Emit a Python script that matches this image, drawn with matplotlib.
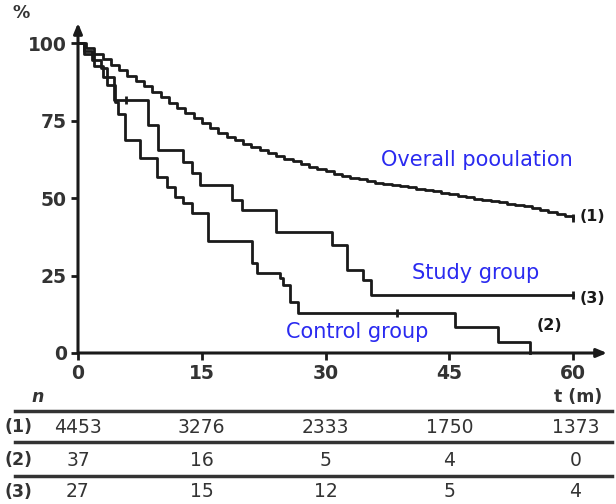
import matplotlib
matplotlib.use("Agg")
import matplotlib.pyplot as plt

# ---- survival data (months, % surviving) ----
overall_t = list(range(0, 61))
overall_s = [100, 98.3, 96.5, 94.8, 93, 91.3, 89.5, 87.8, 86, 84.2, 82.5,
             80.7, 79, 77.3, 75.7, 74.1, 72.5, 71.1, 69.8, 68.6, 67.5, 66.5,
             65.5, 64.5, 63.5, 62.6, 61.8, 60.9, 60, 59.3, 58.6, 57.9, 57.2,
             56.6, 56, 55.5, 55, 54.6, 54.3, 53.9, 53.5, 53, 52.6, 52.1, 51.7,
             51.2, 50.8, 50.3, 49.8, 49.4, 49, 48.6, 48.2, 47.7, 47.3, 46.7,
             46.2, 45.6, 45, 44.3, 43.6]

control_t = [0, 0.7, 1.7, 2.8, 3.5, 4.5, 4.8, 5.7, 7.5, 9.6, 10.8, 11.8, 12.7,
             13.8, 15.8, 21.1, 21.7, 24.5, 24.8, 25.7, 26.7, 45.7, 50.9, 54.8]
control_s = [100, 97.3, 94.6, 91.9, 86.5, 81.1, 77.0, 68.7, 62.9, 56.8, 53.5,
             50.3, 48.4, 45.2, 36.0, 29.0, 25.8, 24.2, 21.9, 16.5, 12.9, 8.4,
             3.5, 0]
control_cens_t = [38.7]

study_t = [0, 0.7, 1.9, 3.0, 4.4, 8.5, 9.7, 12.7, 13.8, 14.8, 18.7, 19.9,
           24.0, 30.8, 32.6, 34.5, 35.5, 60]
study_s = [100, 96.3, 92.6, 88.9, 81.6, 73.5, 65.5, 61.6, 58.0, 54.2, 49.4,
           46.1, 39.0, 34.8, 26.8, 23.5, 18.7, 18.7]
study_cens_t = [5.8, 60]

# ---- number at risk ----
risk_times = [0, 15, 30, 45, 60]
risk_rows = ["(1)", "(2)", "(3)"]
risk_overall = [4453, 3276, 2333, 1750, 1373]
risk_control = [37, 16, 5, 4, 0]
risk_study = [27, 15, 12, 5, 4]

y_ticks = [0, 25, 50, 75, 100]

BLUE = "#2a2af0"
INK = "#1a1a1a"
GREY = "#333333"

plt.rcParams["font.family"] = ["DejaVu Sans"]

fig = plt.figure(figsize=(6.16, 5.04), dpi=100)
W, H = 616, 504
x0, x1 = 78, 607          # pixel span of the x axis
y0, y1 = 353, 23          # pixel span of the y axis
ax = fig.add_axes([x0 / W, (H - y0) / H, (x1 - x0) / W, (y0 - y1) / H])
ax.set_xlim(0, (x1 - x0) / 8.25)
ax.set_ylim(0, (y0 - y1) / 3.1)
for sp in ax.spines.values():
    sp.set_visible(False)

# axes drawn as arrows
ax.annotate("", xy=(1, 0), xytext=(0, 0), xycoords="axes fraction",
            arrowprops=dict(arrowstyle="-|>,head_length=0.6,head_width=0.25",
                            color=INK, lw=2.2, shrinkA=0, shrinkB=0))
ax.annotate("", xy=(0, 1), xytext=(0, 0), xycoords="axes fraction",
            arrowprops=dict(arrowstyle="-|>,head_length=0.6,head_width=0.25",
                            color=INK, lw=2.2, shrinkA=0, shrinkB=0))

ax.set_xticks(risk_times)
ax.set_yticks(y_ticks)
ax.tick_params(length=5, width=2, color=INK, labelsize=13.5, labelcolor=GREY, pad=3)
for lab in ax.get_xticklabels() + ax.get_yticklabels():
    lab.set_fontweight("bold")

# survival curves
kw = dict(where="post", color=INK, lw=2.0, clip_on=False, zorder=3)
ax.step(overall_t, overall_s, **kw)
ax.step(control_t, control_s, **kw)
ax.step(study_t, study_s, **kw)

def surv_at(ts, ss, t):
    v = ss[0]
    for ti, si in zip(ts, ss):
        if ti <= t:
            v = si
    return v

ax.plot([60], [overall_s[-1]], marker="|", ms=6, mew=2, color=INK, clip_on=False)
ax.plot(control_cens_t, [surv_at(control_t, control_s, t) for t in control_cens_t],
        ls="none", marker="|", ms=6, mew=2, color=INK, clip_on=False)
ax.plot(study_cens_t, [surv_at(study_t, study_s, t) for t in study_cens_t],
        ls="none", marker="|", ms=6, mew=2, color=INK, clip_on=False)

# curve labels
ax.text(48.4, 62.3, "Overall pooulation", color=BLUE, fontsize=15,
        ha="center", va="center")
ax.text(48.2, 25.8, "Study group", color=BLUE, fontsize=15,
        ha="center", va="center")
ax.text(33.8, 6.8, "Control group", color=BLUE, fontsize=15,
        ha="center", va="center")
ax.text(60.8, 44.0, "(1)", fontsize=11.5, fontweight="bold", color=INK, va="center")
ax.text(60.8, 17.5, "(3)", fontsize=11.5, fontweight="bold", color=INK, va="center")
ax.text(55.6, 9.0, "(2)", fontsize=11.5, fontweight="bold", color=INK, va="center")

# axis captions
fig.text(21 / W, 1 - 13 / H, "%", fontsize=12.5, fontweight="bold", color=GREY,
         ha="center", va="center")
ax.text(63.6, -14.3, "t (m)", fontsize=12.5, fontweight="bold", color=GREY,
        ha="right", va="center", clip_on=False)
ax.text(-4.9, -14.3, "n", fontsize=12.5, fontweight="bold", style="italic",
        color=GREY, ha="center", va="center", clip_on=False)

# number-at-risk table
row_y = [-23.9, -34.6, -44.8]
for y in [-18.7, -28.7, -39.7]:
    ax.plot([-7.6, 64.7], [y, y], color=GREY, lw=2.5, clip_on=False)
for lab, vals, y in zip(risk_rows, [risk_overall, risk_control, risk_study], row_y):
    ax.text(-8.9, y, lab, fontsize=12.5, fontweight="bold", color=GREY,
            va="center", clip_on=False)
    for t, v in zip(risk_times, vals):
        xx = t + 0.3 if t == 60 else t
        ax.text(xx, y, str(v), fontsize=13.5, color=GREY, ha="center",
                va="center", clip_on=False)

fig.savefig("out.png", dpi=100)
